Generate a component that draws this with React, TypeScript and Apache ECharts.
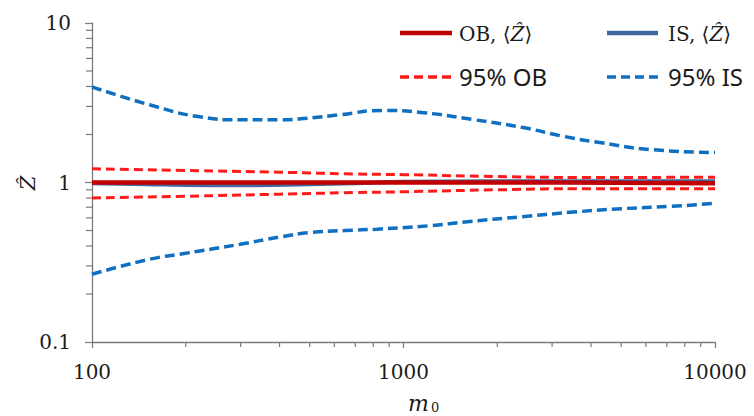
import React, { useEffect, useRef } from "react";
import * as echarts from "echarts";

// ---- data ----
const m0Mean = [100, 150, 200, 300, 500, 700, 1000, 2000, 5000, 10000];
const obMean = [1.0, 1.0, 1.0, 1.0, 1.0, 1.0, 1.0, 1.0, 0.995, 0.99];
const isMean = [0.99, 0.975, 0.965, 0.962, 0.975, 0.99, 1.01, 1.02, 1.02, 1.02];

const m0OB95 = [100, 200, 400, 700, 1000, 2000, 4000, 10000];
const ob95Upper = [1.22, 1.19, 1.16, 1.13, 1.12, 1.09, 1.075, 1.08];
const ob95Lower = [0.8, 0.82, 0.845, 0.865, 0.875, 0.9, 0.915, 0.915];

const m0ISUpper = [100, 153, 222, 300, 400, 491, 625, 860, 1156, 1672, 2421, 3251, 4270, 6180, 10000];
const is95Upper = [3.98, 3.07, 2.58, 2.47, 2.47, 2.53, 2.66, 2.83, 2.74, 2.48, 2.21, 1.95, 1.78, 1.61, 1.54];

const m0ISLower = [100, 153, 200, 299, 400, 500, 650, 822, 1200, 1633, 2400, 3428, 5000, 7180, 10000];
const is95Lower = [0.266, 0.33, 0.36, 0.41, 0.455, 0.485, 0.5, 0.51, 0.535, 0.57, 0.61, 0.65, 0.685, 0.708, 0.74];

const xMinorTicks = [200, 300, 400, 500, 600, 700, 800, 900, 2000, 3000, 4000, 5000, 6000, 7000, 8000, 9000];
const yMinorTicks = [0.2, 0.3, 0.4, 0.5, 0.6, 0.7, 0.8, 0.9, 2, 3, 4, 5, 6, 7, 8, 9];

const X_MIN = 100, X_MAX = 10000, Y_MIN = 0.1, Y_MAX = 10;

const zip = (xs: number[], ys: number[]) => xs.map((x, i) => [x, ys[i]]);

const AXIS_COLOR = "#7a7a7a";
const SERIF = "DejaVu Serif";

export default function App() {
  const ref = useRef<HTMLDivElement>(null);
  useEffect(() => {
    if (!ref.current) return;
    const chart = echarts.init(ref.current, undefined, { renderer: "svg" });

    const tickSeries = (data: number[][], dir: "x" | "y") => ({
      type: "custom",
      clip: false,
      silent: true,
      z: 10,
      data,
      renderItem: (params: any, api: any) => {
        const p = api.coord([api.value(0), api.value(1)]);
        const shape =
          dir === "x"
            ? { x1: p[0], y1: p[1], x2: p[0], y2: p[1] + 5 }
            : { x1: p[0], y1: p[1], x2: p[0] - 6, y2: p[1] };
        return { type: "line", shape, style: { stroke: AXIS_COLOR, lineWidth: 1.2 } };
      },
    });

    const lineSeries = (name: string, data: number[][], color: string, width: number, dash: any, z: number) => ({
      name,
      type: "line",
      data,
      smooth: true,
      showSymbol: false,
      symbol: "none",
      z,
      lineStyle: { color, width, type: dash, cap: "butt" },
    });

    const legendText = (x: number, y: number, text: string, rich?: any, font?: any) => ({
      type: "text",
      x,
      y,
      style: {
        text,
        rich,
        fill: "#1a1a1a",
        verticalAlign: "middle",
        align: "left",
        ...(font || {}),
      },
    });

    const richMean = {
      n: { fontFamily: SERIF, fontSize: 20, fill: "#1a1a1a" },
      z: { fontFamily: SERIF, fontSize: 20, fontStyle: "italic", fill: "#1a1a1a" },
    };

    chart.setOption({
      animation: false,
      grid: { left: 92, right: 39, top: 23, bottom: 74, containLabel: false },
      xAxis: {
        type: "log",
        logBase: 10,
        min: X_MIN,
        max: X_MAX,
        axisLine: { show: true, lineStyle: { color: AXIS_COLOR, width: 1.3 } },
        axisTick: { show: true, length: 6, lineStyle: { color: AXIS_COLOR, width: 1.2 } },
        splitLine: { show: false },
        axisLabel: {
          fontFamily: SERIF,
          fontSize: 20,
          color: "#1a1a1a",
          margin: 20,
          formatter: (v: number) => String(Math.round(v)),
        },
      },
      yAxis: {
        type: "log",
        logBase: 10,
        min: Y_MIN,
        max: Y_MAX,
        axisLine: { show: true, lineStyle: { color: AXIS_COLOR, width: 1.3 } },
        axisTick: { show: true, length: 7, lineStyle: { color: AXIS_COLOR, width: 1.2 } },
        splitLine: { show: false },
        axisLabel: {
          fontFamily: SERIF,
          fontSize: 20,
          color: "#1a1a1a",
          margin: 21,
          formatter: (v: number) => (v < 1 ? String(Number(v.toFixed(1))) : String(Math.round(v))),
        },
      },
      series: [
        tickSeries(xMinorTicks.map((x) => [x, Y_MIN]), "x"),
        tickSeries(yMinorTicks.map((y) => [X_MIN, y]), "y"),
        lineSeries("95% IS upper", zip(m0ISUpper, is95Upper), "#0f6fc0", 3.5, [10, 5], 2),
        lineSeries("95% IS lower", zip(m0ISLower, is95Lower), "#0f6fc0", 3.5, [10, 5], 2),
        lineSeries("IS, <Z>", zip(m0Mean, isMean), "#41689f", 4, "solid", 3),
        lineSeries("95% OB upper", zip(m0OB95, ob95Upper), "#ff1a1a", 3, [9, 5], 4),
        lineSeries("95% OB lower", zip(m0OB95, ob95Lower), "#ff1a1a", 3, [9, 5], 4),
        lineSeries("OB, <Z>", zip(m0Mean, obMean), "#c00000", 4.5, "solid", 5),
      ],
      graphic: [
        // legend lines
        { type: "line", shape: { x1: 400, y1: 33, x2: 452, y2: 33 }, style: { stroke: "#c00000", lineWidth: 4.5 } },
        { type: "line", shape: { x1: 607, y1: 33, x2: 658, y2: 33 }, style: { stroke: "#41689f", lineWidth: 4.5 } },
        { type: "line", shape: { x1: 400, y1: 77, x2: 452, y2: 77 }, style: { stroke: "#ff1a1a", lineWidth: 3.5, lineDash: [9, 5] } },
        { type: "line", shape: { x1: 607, y1: 77, x2: 658, y2: 77 }, style: { stroke: "#0f6fc0", lineWidth: 3.5, lineDash: [9, 5] } },
        legendText(459, 34, "{n|OB, ⟨}{z|Ẑ}{n|⟩}", richMean),
        legendText(668, 34, "{n|IS, ⟨}{z|Ẑ}{n|⟩}", richMean),
        legendText(459, 76, "95% OB", undefined, { fontFamily: "Noto Sans", fontSize: 24 }),
        legendText(668, 76, "95% IS", undefined, { fontFamily: "Noto Sans", fontSize: 24 }),
        // axis names
        {
          type: "text",
          x: 28,
          y: 183,
          rotation: Math.PI / 2,
          style: { text: "Ẑ", fontFamily: SERIF, fontSize: 21, fontStyle: "italic", fill: "#1a1a1a", align: "center", verticalAlign: "middle" },
        },
        {
          type: "text",
          x: 408,
          y: 403,
          style: { text: "m", fontFamily: SERIF, fontSize: 22, fontStyle: "italic", fill: "#1a1a1a", align: "left", verticalAlign: "middle" },
        },
        {
          type: "text",
          x: 431,
          y: 407,
          style: { text: "0", fontFamily: SERIF, fontSize: 13, fill: "#1a1a1a", align: "left", verticalAlign: "middle" },
        },
      ],
    });
    return () => chart.dispose();
  }, []);
  return <div ref={ref} style={{ width: 754, height: 416, position: "absolute", left: 0, top: 0 }} />;
}
